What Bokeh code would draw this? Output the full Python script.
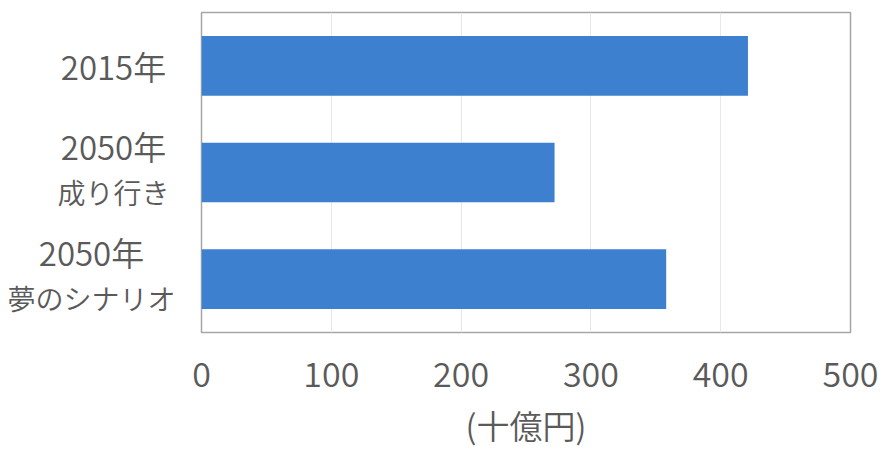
from bokeh.plotting import figure
from bokeh.layouts import row
from bokeh.models import FactorRange, FixedTicker, Range1d, ColumnDataSource
from bokeh.core.properties import value
from bokeh.embed import file_html
from bokeh.resources import INLINE

# Scenario labels (top to bottom) and their values in billion yen
categories = ["2015年", "2050年\n成り行き", "2050年\n夢のシナリオ"]
values = [421, 272, 358]
x_ticks = [0, 100, 200, 300, 400, 500]
x_title = "(十億円)"

FONT = "'Noto Sans CJK JP DemiLight', 'Noto Sans CJK JP Light', 'Noto Sans CJK JP'"
TEXT = "#5a5a5a"
BAR = "#3E80D0"

TOP, BOTTOM = 12, 121
LABEL_W = 181
GAP = 20  # left border of the bar chart, room for the "0" tick label

y_range = FactorRange(factors=categories[::-1], range_padding=0)

# ---- main bar chart -------------------------------------------------------
p = figure(
    width=884 - LABEL_W, height=453,
    y_range=y_range, x_range=Range1d(0, 500),
    output_backend="svg", toolbar_location=None,
    min_border_left=GAP, min_border_right=34,
    min_border_top=TOP, min_border_bottom=BOTTOM,
)

p.hbar(y=categories, right=values, left=0, height=0.56,
       fill_color=BAR, line_color=None)

p.outline_line_color = "#a6a6a6"
p.outline_line_width = 1.5
p.xgrid.grid_line_color = "#e8e8e8"
p.ygrid.grid_line_color = None
p.yaxis.visible = False

xa = p.xaxis[0]
xa.ticker = FixedTicker(ticks=x_ticks)
xa.axis_line_color = None
xa.major_tick_line_color = None
xa.minor_tick_line_color = None
xa.major_label_standoff = 23
xa.major_label_text_font = FONT
xa.major_label_text_font_size = "34px"
xa.major_label_text_color = TEXT
xa.axis_label = x_title
xa.axis_label_text_font = FONT
xa.axis_label_text_font_size = "33px"
xa.axis_label_text_font_style = "normal"
xa.axis_label_text_color = TEXT
xa.axis_label_standoff = 11

# ---- category labels, in a narrow panel sharing the y range ----------------
# Each label block sits beside the frame; its lines are centred on one another.
block_center = {categories[0]: 113, categories[1]: 113, categories[2]: 91}
line_dy = {1: [0], 2: [-27, 19]}
line_size = {1: ["33px"], 2: ["33px", "28px"]}

lx, ly, ltext, ldy, lsize = [], [], [], [], []
for cat in categories:
    lines = cat.split("\n")
    for line, dy, sz in zip(lines, line_dy[len(lines)], line_size[len(lines)]):
        lx.append(block_center[cat])
        ly.append(cat)
        ltext.append(line)
        ldy.append(dy)
        lsize.append(sz)

labels = ColumnDataSource(dict(x=lx, y=ly, text=ltext, dy=ldy, size=lsize))

left = figure(
    width=LABEL_W, height=453,
    y_range=y_range, x_range=Range1d(0, LABEL_W),
    output_backend="svg", toolbar_location=None,
    min_border_left=0, min_border_right=0,
    min_border_top=TOP, min_border_bottom=BOTTOM,
)
left.axis.visible = False
left.grid.visible = False
left.outline_line_color = None
left.text(x="x", y="y", text="text", y_offset="dy", source=labels,
          text_font=value(FONT), text_font_size="size",
          text_color=TEXT, text_align="center", text_baseline="middle")

for fig in (p, left):
    fig.background_fill_color = "white"
    fig.border_fill_color = "white"

layout = row(left, p)
open("out.html", "w").write(file_html(layout, INLINE))
